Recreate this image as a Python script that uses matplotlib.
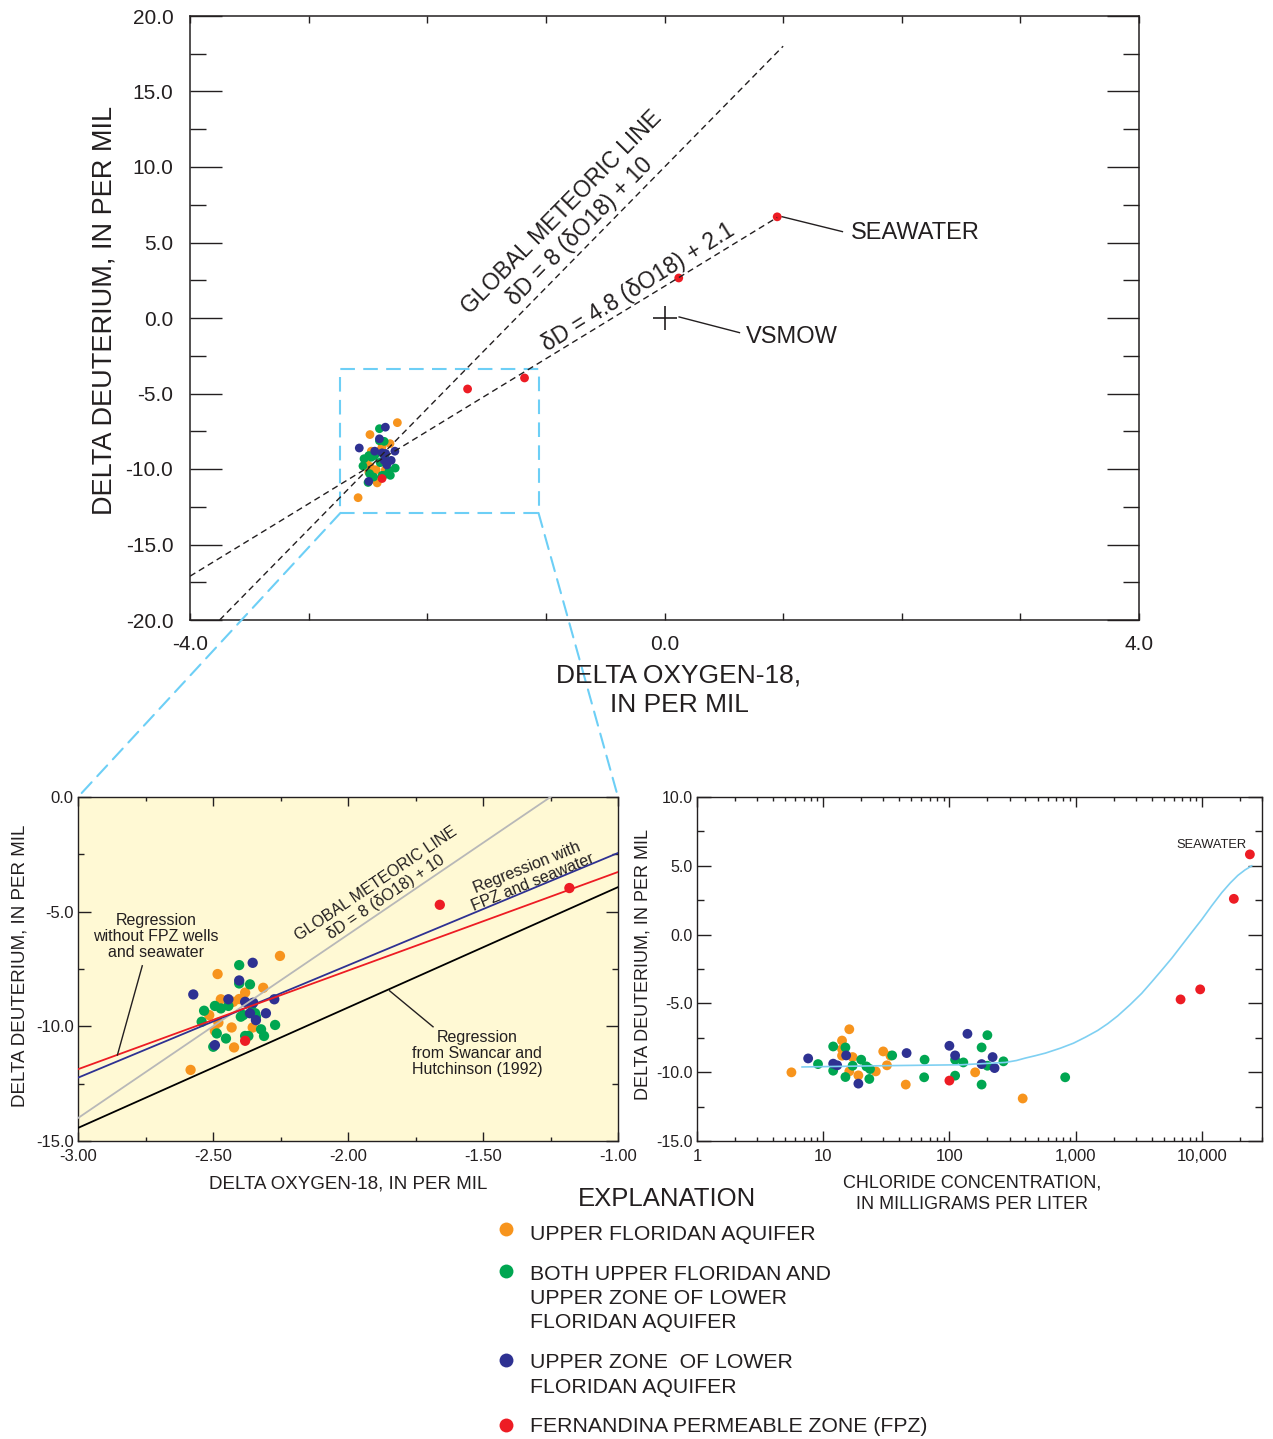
import numpy as np
import matplotlib
matplotlib.use("Agg")
import matplotlib.pyplot as plt
from matplotlib.patches import Rectangle, ConnectionPatch
from matplotlib.lines import Line2D
from matplotlib.ticker import MultipleLocator, FixedLocator, LogLocator, NullFormatter

plt.rcParams['font.family'] = ['Liberation Sans', 'DejaVu Sans']
plt.rcParams['axes.unicode_minus'] = False

W, H = 1273, 1439
INK = '#231F20'
C_UF = '#F7941D'
C_BOTH = '#00A651'
C_LF = '#2E3192'
C_FPZ = '#ED1C24'
C_SKY = '#6DCFF6'

# --- isotope data (delta O-18, delta D), per mil ---
uf_o18 = [-2.252, -2.483, -2.314, -2.381, -2.403, -2.425, -2.471, -2.514, -2.480, -2.493, -2.431, -2.353, -2.422, -2.583]
uf_dd = [-6.93, -7.72, -8.32, -8.53, -8.81, -8.93, -8.82, -9.51, -9.84, -10.20, -10.05, -10.05, -10.92, -11.90]

both_o18 = [-2.403, -2.403, -2.363, -2.493, -2.471, -2.443, -2.533, -2.542, -2.486, -2.452, -2.499,
            -2.397, -2.388, -2.357, -2.344, -2.341, -2.322, -2.311, -2.270, -2.381, -2.369]
both_dd = [-7.33, -8.13, -8.17, -9.11, -9.22, -9.11, -9.32, -9.80, -10.31, -10.53, -10.89,
           -9.58, -9.51, -9.07, -9.43, -9.58, -10.13, -10.42, -9.94, -10.42, -10.42]

lf_o18 = [-2.353, -2.573, -2.443, -2.403, -2.381, -2.273, -2.363, -2.304, -2.341, -2.493, -2.351]
lf_dd = [-7.23, -8.61, -8.82, -8.00, -8.93, -8.82, -9.43, -9.43, -9.73, -10.82, -8.97]

fpz_o18 = [-2.381, -1.66, -1.18, 0.12, 0.95]
fpz_dd = [-10.63, -4.70, -3.97, 2.65, 6.70]

# --- chloride data (mg/L, delta D) ---
cl_uf = [5.6, 16.1, 14.1, 14.1, 14.1, 17.1, 16.1, 19.0, 26.1, 29.9, 34.1, 32.0, 45.1, 160, 381]
cl_uf_dd = [-10.01, -6.88, -7.70, -8.32, -8.80, -8.90, -9.94, -10.23, -9.94, -8.49, -8.80, -9.50, -10.90, -10.01, -11.91]
cl_both = [9.1, 12.0, 15.0, 12.0, 15.0, 17.1, 20.0, 22.0, 23.5, 23.2, 35.2, 63.6, 63.1, 111, 111,
           129, 180, 200, 200, 180, 268, 827]
cl_both_dd = [-9.41, -8.13, -8.20, -9.89, -10.35, -9.53, -9.09, -9.58, -9.77, -10.49, -8.78, -9.09,
              -10.37, -9.09, -10.25, -9.29, -8.20, -7.31, -9.53, -10.90, -9.21, -10.37]
cl_lf = [7.6, 12.0, 12.9, 15.2, 19.0, 45.8, 100, 111, 139, 180, 220, 228]
cl_lf_dd = [-9.00, -9.38, -9.50, -8.78, -10.83, -8.61, -8.08, -8.78, -7.21, -9.41, -8.90, -9.70]
cl_fpz = [100, 6790, 9710, 17950, 24050]
cl_fpz_dd = [-10.61, -4.71, -3.98, 2.60, 5.83]

# mixing curve
mix_cl = [6.8, 28.9, 124, 278, 340, 401, 480, 578, 760, 963, 1200, 1495, 1800, 2155, 2700,
          3340, 4000, 4820, 5800, 6930, 8300, 10000, 12000, 14400, 16800, 19300, 22000, 24900]
mix_dd = [-9.62, -9.53, -9.46, -9.29, -9.15, -8.97, -8.80, -8.61, -8.25, -7.89, -7.45, -6.97,
          -6.47, -5.91, -5.10, -4.27, -3.45, -2.58, -1.70, -0.78, 0.15, 1.10, 2.10, 3.05,
          3.75, 4.30, 4.70, 5.0]

# lines: (slope, intercept, x start, x end)
gmwl = (8.0, 10.0, -3.75, 1.0)
local_line = (4.8, 2.1, -4.0, 0.95)
reg_without = (4.30, 1.03)    # red
reg_with = (4.90, 2.46)       # blue
reg_swancar = (5.25, 1.32)    # black

legend_labels = ['UPPER FLORIDAN AQUIFER',
                 'BOTH UPPER FLORIDAN AND\nUPPER ZONE OF LOWER\nFLORIDAN AQUIFER',
                 'UPPER ZONE  OF LOWER\nFLORIDAN AQUIFER',
                 'FERNANDINA PERMEABLE ZONE (FPZ)']
legend_colors = [C_UF, C_BOTH, C_LF, C_FPZ]

groups = [(uf_o18, uf_dd, C_UF), (both_o18, both_dd, C_BOTH),
          (lf_o18, lf_dd, C_LF), (fpz_o18, fpz_dd, C_FPZ)]
cl_groups = [(cl_uf, cl_uf_dd, C_UF), (cl_both, cl_both_dd, C_BOTH),
             (cl_lf, cl_lf_dd, C_LF), (cl_fpz, cl_fpz_dd, C_FPZ)]

fig = plt.figure(figsize=(W / 100, H / 100), dpi=100)


def fx(px):
    return px / W


def fy(py):
    return 1 - py / H


def add_ax(l, t, r, b):
    return fig.add_axes([fx(l), fy(b), (r - l) / W, (b - t) / H])


def style_spines(a, lw=1.1):
    for s in a.spines.values():
        s.set_linewidth(lw)
        s.set_color(INK)


# ---------------- top panel ----------------
ax = add_ax(190, 16, 1139, 620)
style_spines(ax)
ax.set_xlim(-4, 4)
ax.set_ylim(-20, 20)
ax.set_xticks(np.arange(-4, 5, 1))
ax.set_xticklabels(['-4.0', '', '', '', '0.0', '', '', '', '4.0'])
ax.tick_params(axis='x', direction='in', length=5, width=1, top=True,
               labelsize=15, pad=11, colors=INK)
yt = np.arange(-20, 21, 5)
ax.set_yticks(yt)
ax.set_yticklabels([f'{v:.1f}' for v in yt])
ax.yaxis.set_minor_locator(MultipleLocator(2.5))
ax.tick_params(axis='y', which='major', direction='in', length=23, width=1,
               right=True, labelsize=15, pad=12, colors=INK)
ax.tick_params(axis='y', which='minor', direction='in', length=11.5, width=1,
               right=True, colors=INK)

for o18, dd, c in groups:
    ax.scatter(o18, dd, s=40, color=c, edgecolors='none', zorder=3)

for m, b, x0, x1 in (gmwl, local_line):
    ax.plot([x0, x1], [m * x0 + b, m * x1 + b], color=INK, lw=1.0,
            ls=(0, (4.5, 3)), zorder=4)

ax.plot([0], [0], marker='+', ms=17, mew=1.2, color=INK, zorder=4)
ax.plot([0.99, 1.50], [6.71, 5.72], color=INK, lw=1.0)
ax.text(1.57, 5.65, 'SEAWATER', fontsize=17, color=INK, va='center', ha='left')
ax.plot([0.123, 0.632], [0.07, -0.97], color=INK, lw=1.0)
ax.text(0.69, -1.26, 'VSMOW', fontsize=17, color=INK, va='center', ha='left')

ax.text(-0.79, 6.36, 'GLOBAL METEORIC LINE\nδD = 8 (δO18) + 10', rotation=45.5,
        rotation_mode='anchor', ha='center', va='center', multialignment='center',
        fontsize=16.5, color=INK, linespacing=1.2)
ax.text(-0.22, 2.05, 'δD = 4.8 (δO18) + 2.1', rotation=32,
        rotation_mode='anchor', ha='center', va='center', fontsize=16.5, color=INK)

rx0, rx1, ry0, ry1 = -2.732, -1.062, -12.91, -3.38
ax.add_patch(Rectangle((rx0, ry0), rx1 - rx0, ry1 - ry0, fill=False, ec=C_SKY,
                       lw=1.5, ls=(0, (7, 4)), zorder=2))

fig.text(fx(105), fy(310), 'DELTA DEUTERIUM, IN PER MIL', rotation=90,
         ha='center', va='center', fontsize=19.5, color=INK)
fig.text(fx(679), fy(690), 'DELTA OXYGEN-18,\nIN PER MIL', ha='center', va='center',
         fontsize=19, color=INK, linespacing=1.3)

# ---------------- inset panel ----------------
ax2 = add_ax(78, 797, 618, 1141)
style_spines(ax2, 1.0)
ax2.set_facecolor('#FFF9D4')
ax2.set_xlim(-3, -1)
ax2.set_ylim(-15, 0)
xt2 = np.arange(-3, -0.99, 0.5)
ax2.set_xticks(xt2)
ax2.set_xticklabels([f'{v:.2f}' for v in xt2])
ax2.xaxis.set_minor_locator(MultipleLocator(0.25))
yt2 = np.arange(-15, 0.1, 5)
ax2.set_yticks(yt2)
ax2.set_yticklabels([f'{v:.1f}' for v in yt2])
ax2.yaxis.set_minor_locator(MultipleLocator(2.5))
ax2.tick_params(axis='x', which='major', direction='in', length=6.5, width=1, top=True,
                labelsize=12, pad=6, colors=INK)
ax2.tick_params(axis='x', which='minor', direction='in', length=3.2, width=1, top=True, colors=INK)
ax2.tick_params(axis='y', which='major', direction='in', length=9, width=1, right=True,
                labelsize=12, pad=3, colors=INK)
ax2.tick_params(axis='y', which='minor', direction='in', length=4.5, width=1, right=True, colors=INK)

for o18, dd, c in groups:
    ax2.scatter(o18, dd, s=55, color=c, edgecolors='none', zorder=3)

xs = np.array([-3.0, -1.0])
ax2.plot(xs, gmwl[0] * xs + gmwl[1], color='#B8B8B8', lw=1.3, zorder=4)
ax2.plot(xs, reg_swancar[0] * xs + reg_swancar[1], color='black', lw=1.3, zorder=4)
ax2.plot(xs, reg_with[0] * xs + reg_with[1], color=C_LF, lw=1.3, zorder=4)
ax2.plot(xs, reg_without[0] * xs + reg_without[1], color=C_FPZ, lw=1.3, zorder=4)

ax2.text(-2.711, -6.1, 'Regression\nwithout FPZ wells\nand seawater', ha='center', va='center',
         fontsize=11.5, color=INK, linespacing=1.08)
ax2.plot([-2.762, -2.854], [-7.36, -11.25], color=INK, lw=1.0, zorder=5)
ax2.text(-1.522, -11.2, 'Regression\nfrom Swancar and\nHutchinson (1992)', ha='center',
         va='center', fontsize=11.5, color=INK, linespacing=1.08)
ax2.plot([-1.846, -1.685], [-8.45, -10.02], color=INK, lw=1.0, zorder=5)
ax2.text(-1.878, -4.06, 'GLOBAL METEORIC LINE\nδD = 8 (δO18) + 10', rotation=34,
         rotation_mode='anchor', ha='center', va='center', multialignment='center',
         fontsize=11.5, color=INK, linespacing=1.15)
ax2.text(-1.326, -3.4, 'Regression with\nFPZ and seawater', rotation=22,
         rotation_mode='anchor', ha='center', va='center', multialignment='center',
         fontsize=11.5, color=INK, linespacing=1.1)

fig.text(fx(20), fy(966), 'DELTA DEUTERIUM, IN PER MIL', rotation=90,
         ha='center', va='center', fontsize=13.5, color=INK)
fig.text(fx(348), fy(1184), 'DELTA OXYGEN-18, IN PER MIL', ha='center', va='center',
         fontsize=13.5, color=INK)

# connectors from the box to the inset
for xa, xb in ((rx0, 0.0), (rx1, 1.0)):
    con = ConnectionPatch(xyA=(xa, ry0), coordsA=ax.transData, xyB=(xb, 1.0),
                          coordsB=ax2.transAxes, color=C_SKY, lw=1.5, ls=(0, (7, 4)))
    fig.add_artist(con)

# ---------------- chloride panel ----------------
ax3 = add_ax(697, 797, 1262, 1141)
style_spines(ax3, 1.0)
ax3.set_xscale('log')
ax3.set_xlim(1, 30000)
ax3.set_ylim(-15, 10)
xt3 = [1, 10, 100, 1000, 10000]
ax3.xaxis.set_major_locator(FixedLocator(xt3))
ax3.set_xticklabels(['1', '10', '100', '1,000', '10,000'])
ax3.xaxis.set_minor_locator(LogLocator(base=10, subs=np.arange(2, 10), numticks=20))
ax3.xaxis.set_minor_formatter(NullFormatter())
yt3 = np.arange(-15, 10.1, 5)
ax3.set_yticks(yt3)
ax3.set_yticklabels([f'{v:.1f}' for v in yt3])
ax3.yaxis.set_minor_locator(MultipleLocator(2.5))
ax3.tick_params(axis='x', which='major', direction='in', length=7, width=1, top=True,
                labelsize=12, pad=6, colors=INK)
ax3.tick_params(axis='x', which='minor', direction='in', length=3.2, width=1, top=True, colors=INK)
ax3.tick_params(axis='y', which='major', direction='in', length=10, width=1, right=True,
                labelsize=11.5, pad=3, colors=INK)
ax3.tick_params(axis='y', which='minor', direction='in', length=5, width=1, right=True, colors=INK)

for cl, dd, c in cl_groups:
    ax3.scatter(cl, dd, s=50, color=c, edgecolors='none', zorder=3)
ax3.plot(mix_cl, mix_dd, color='#7FD0F2', lw=1.2, zorder=4)
ax3.text(22500, 6.5, 'SEAWATER', ha='right', va='center', fontsize=9.3, color=INK)

fig.text(fx(643), fy(965), 'DELTA DEUTERIUM, IN PER MIL', rotation=90,
         ha='center', va='center', fontsize=13, color=INK)
fig.text(fx(972), fy(1194), 'CHLORIDE CONCENTRATION,\nIN MILLIGRAMS PER LITER',
         ha='center', va='center', fontsize=13, color=INK, linespacing=1.35)

# ---------------- explanation ----------------
fig.text(fx(667), fy(1199), 'EXPLANATION', ha='center', va='center', fontsize=18.5, color=INK)
marker_y = [1229, 1271, 1360, 1425]
text_y = [1232, 1272, 1361, 1425]
for lab, c, my, ty in zip(legend_labels, legend_colors, marker_y, text_y):
    fig.add_artist(Line2D([fx(506)], [fy(my)], marker='o', ms=10, color=c, mec='none',
                          transform=fig.transFigure))
    fig.text(fx(530), fy(ty - 7.5), lab, ha='left', va='top', fontsize=15.3, color=INK,
             linespacing=1.35)

fig.savefig('out.png', dpi=100)
